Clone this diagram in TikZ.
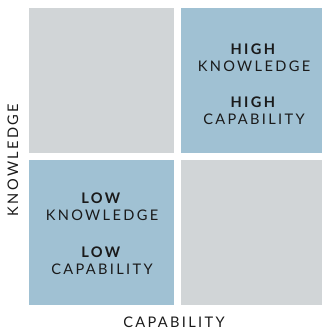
\documentclass[tikz,border=0pt]{standalone}
\usepackage{fontspec}
\setmainfont{Lato}[LetterSpace=16]
\definecolor{quadgray}{HTML}{D1D5D7}
\definecolor{quadblue}{HTML}{A0C1D3}
\definecolor{inkdark}{HTML}{1A1A1A}
\begin{document}
\begin{tikzpicture}[x=1pt,y=-1pt,
  lbl/.style={font=\fontsize{14.6}{16}\selectfont,text=inkdark,align=center,inner sep=0pt},
  axislbl/.style={font=\fontsize{14.6}{16}\selectfont,text=inkdark,inner sep=0pt}]
\useasboundingbox (0,0) rectangle (322,329);
\fill[quadgray] (29,8) rectangle (174,153);
\fill[quadblue] (181,8) rectangle (322,153);
\fill[quadblue] (29,160) rectangle (174,305);
\fill[quadgray] (181,160) rectangle (322,305);
\node[lbl] (hk) at (254,58) {\textbf{HIGH}\\[1pt]KNOWLEDGE};
\node[lbl] (hc) at (254,111) {\textbf{HIGH}\\[1pt]CAPABILITY};
\node[lbl] (lk) at (102,207) {\textbf{LOW}\\[1pt]KNOWLEDGE};
\node[lbl] (lc) at (102,260.5) {\textbf{LOW}\\[1pt]CAPABILITY};
\node[axislbl] (xa) at (174,322) {CAPABILITY};
\node[axislbl,rotate=90] (ya) at (13,160) {KNOWLEDGE};
\end{tikzpicture}
\end{document}
